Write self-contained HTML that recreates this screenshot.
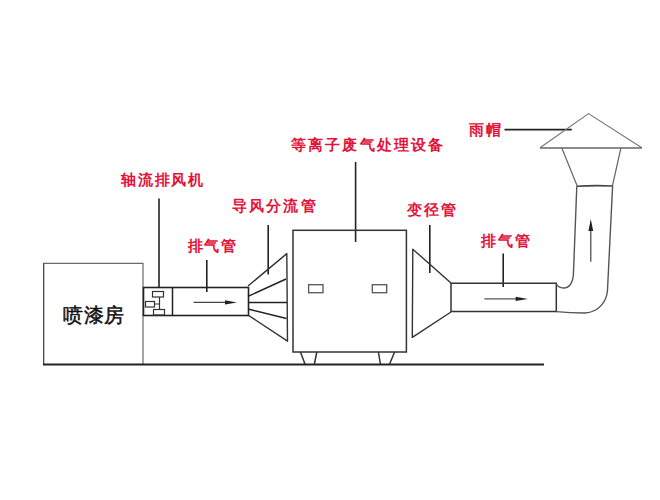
<!DOCTYPE html>
<html><head><meta charset="utf-8">
<style>
html,body{margin:0;padding:0;background:#fff;width:660px;height:500px;overflow:hidden}
svg{position:absolute;left:0;top:0}
.t{position:absolute;font-family:"Liberation Sans",sans-serif;font-weight:bold;color:#e3123a;font-size:15px;line-height:15px;letter-spacing:1.8px;white-space:nowrap}
</style></head><body>
<svg width="660" height="500" viewBox="0 0 660 500">
<g fill="none" stroke-linejoin="miter">
<!-- paint booth -->
<path d="M43.6,364 V263.3 H143 V364" stroke="#6a6a6a" stroke-width="1.2"/>
<path d="M43.6,263.3 V364" stroke="#4a4a4a" stroke-width="1.2"/>
<!-- ground -->
<path d="M43,364.5 H544" stroke="#222" stroke-width="1.8"/>
<!-- fan box + pipe -->
<rect x="143.5" y="287.5" width="105" height="28" stroke="#222" stroke-width="1.6"/>
<path d="M172.5,287.5 V315.5" stroke="#222" stroke-width="1.5"/>
<!-- fan symbols -->
<rect x="152.5" y="291.5" width="11" height="5.5" stroke="#333" stroke-width="1.2"/>
<rect x="145.5" y="301.5" width="9" height="5.5" stroke="#333" stroke-width="1.2"/>
<rect x="153.5" y="309.5" width="11" height="5.5" stroke="#333" stroke-width="1.2"/>
<path d="M159.5,297 V309.5 M154.5,304 H159.5" stroke="#333" stroke-width="1.2"/>
<!-- leaders -->
<path d="M159,198.5 V288" stroke="#222" stroke-width="1.6"/>
<path d="M206.8,260 V292" stroke="#222" stroke-width="1.6"/>
<path d="M268.2,225 V274.5" stroke="#222" stroke-width="1.6"/>
<path d="M355.6,162 V242" stroke="#222" stroke-width="1.6"/>
<path d="M429.8,225 V273" stroke="#222" stroke-width="1.6"/>
<path d="M503.2,253.5 V287" stroke="#222" stroke-width="1.6"/>
<path d="M504.5,129.6 H571.8" stroke="#222" stroke-width="1.6"/>
<!-- arrows -->
<path d="M193.6,302.4 H228" stroke="#444" stroke-width="1.1"/>
<path d="M237,302.4 L225,300.3 L225,304.5 Z" fill="#222"/>
<path d="M484.3,298.9 H518" stroke="#555" stroke-width="1.1"/>
<path d="M528,298.9 L515.7,296.8 L515.7,301 Z" fill="#222"/>
<path d="M590.8,261.8 V228" stroke="#444" stroke-width="1.2"/>
<path d="M590.8,219 L588.4,231 L593.2,231 Z" fill="#222"/>
<!-- diffuser -->
<path d="M248,286 L286.8,253.6 L287.5,341.2 L248,315" stroke="#333" stroke-width="1.4" stroke-linejoin="round"/>
<path d="M248,296.4 L286,279 M248,302.5 H287 M248,309 L286.5,318.5" stroke="#222" stroke-width="1.5"/>
<!-- device -->
<rect x="293" y="230.3" width="113.4" height="121.7" stroke="#333" stroke-width="1.5"/>
<rect x="308.6" y="284.7" width="14.4" height="8" stroke="#555" stroke-width="1.3"/>
<rect x="372.3" y="284.7" width="14.4" height="8" stroke="#555" stroke-width="1.3"/>
<path d="M300.4,352 L305,364 M316.8,352 L314.4,364" stroke="#333" stroke-width="1.5"/>
<path d="M378.4,352 L380.4,364 M394.6,352 L389.6,364" stroke="#333" stroke-width="1.5"/>
<!-- reducer -->
<path d="M451,283 L412.8,249.2 L412.3,337.4 L451,312" stroke="#333" stroke-width="1.4" stroke-linejoin="round"/>
<!-- right pipe -->
<path d="M451,283.2 H556.3 V311.6 H451 Z" stroke="#333" stroke-width="1.5"/>
<!-- elbow / vertical pipe -->
<path d="M556.3,284 C558,288 566,290 570,285 C573,281 573.5,278 573.5,272 L576.8,186.2" stroke="#555" stroke-width="1.4"/>
<path d="M556.3,311.6 C565,312.5 575,313 585,313 C600,312 607,300 607.5,290 L612.6,186" stroke="#555" stroke-width="1.4"/>
<path d="M576.8,186.2 Q595,185.2 612.6,186" stroke="#444" stroke-width="1.6"/>
<!-- rain cap -->
<path d="M577.3,186.2 L561.8,148 M612.4,186 L620.9,148" stroke="#666" stroke-width="1.2"/>
<path d="M540,147.8 L588.5,113.6 L641.8,147.8" stroke="#777" stroke-width="1.2"/>
<path d="M540,148 H641.8" stroke="#666" stroke-width="1.6"/>
</g>
</svg>
<div class="t" style="left:121px;top:172px">轴流排风机</div>
<div class="t" style="left:232px;top:198px;letter-spacing:2.15px">导风分流管</div>
<div class="t" style="left:188px;top:238px;letter-spacing:1.4px">排气管</div>
<div class="t" style="left:291px;top:137px;letter-spacing:2.15px">等离子废气处理设备</div>
<div class="t" style="left:407px;top:202px">变径管</div>
<div class="t" style="left:481px;top:233px">排气管</div>
<div class="t" style="left:469px;top:122px">雨帽</div>
<div class="t" style="left:63px;top:304.5px;color:#111;font-size:20px;line-height:20px;font-weight:normal;letter-spacing:0.5px;transform:none;-webkit-text-stroke:0.5px #111">喷漆房</div>
</body></html>
